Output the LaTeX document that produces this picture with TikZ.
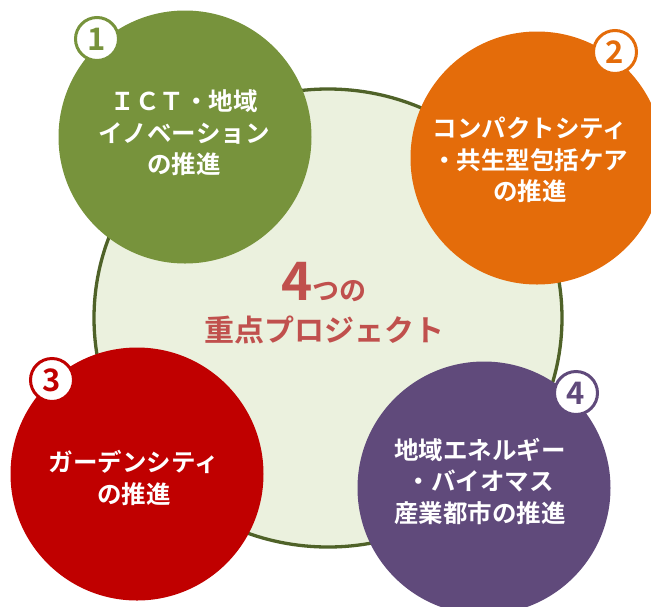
\documentclass[tikz,border=0pt]{standalone}
\usetikzlibrary{shapes.geometric}
\usepackage{fontspec}
\setmainfont{Noto Sans CJK JP}[BoldFont={* Bold}]
\definecolor{cgreen}{HTML}{77933C}
\definecolor{corange}{HTML}{E46C0A}
\definecolor{cred}{HTML}{C00000}
\definecolor{cpurple}{HTML}{604A7B}
\definecolor{bigfill}{HTML}{EBF1DE}
\definecolor{bigline}{HTML}{4F6228}
\definecolor{ctitle}{HTML}{C0504D}
\tikzset{
  proj/.style={circle, minimum size=253pt, inner sep=0pt},
  projtext/.style={text=white, align=center, inner sep=0pt, font=\bfseries\fontsize{24.5}{31.5}\selectfont},
  badge/.style={circle, draw=#1, fill=white, line width=3pt, minimum size=43pt, inner sep=0pt, text=#1, font=\bfseries\fontsize{31}{31}\selectfont}
}
\begin{document}
\begin{tikzpicture}[x=1pt,y=-1pt]
\useasboundingbox (0,0) rectangle (651,606);
\clip (0,0) rectangle (651,606);
% central circle
\node[ellipse, minimum width=468pt, minimum height=458pt, inner sep=0pt, draw=bigline, fill=bigfill, line width=3.3pt] (big) at (328,318) {};
% project circles
\node[proj, fill=cgreen] (c1) at (185,137) {};
\node[proj, fill=corange] (c2) at (537,158) {};
\node[proj, fill=cred] (c3) at (137,474) {};
\node[proj, fill=cpurple] (c4) at (484,488) {};
% texts
\node[projtext] (t1) at (184,133) {ＩＣＴ・地域\\イノベーション\\の推進};
\node[projtext] (t2) at (530,160) {コンパクトシティ\\・共生型包括ケア\\の推進};
\node[projtext] (t3) at (134,478) {ガーデンシティ\\の推進};
\node[projtext] (t4) at (480,481) {地域エネルギー\\・バイオマス\\産業都市の推進};
% title
\node[text=ctitle, inner sep=0pt, font=\bfseries, anchor=base] (title1) at (324,300) {{\fontsize{53}{53}\selectfont 4}{\fontsize{27}{27}\selectfont つの}};
\node[text=ctitle, inner sep=0pt, font=\bfseries\fontsize{30}{30}\selectfont] (title2) at (324,330) {重点プロジェクト};
% badges
\node[badge=cgreen] (b1) at (97,39) {1};
\node[badge=corange] (b2) at (615,52) {2};
\node[badge=cred] (b3) at (52,380) {3};
\node[badge=cpurple] (b4) at (576,393) {4};
\end{tikzpicture}
\end{document}
